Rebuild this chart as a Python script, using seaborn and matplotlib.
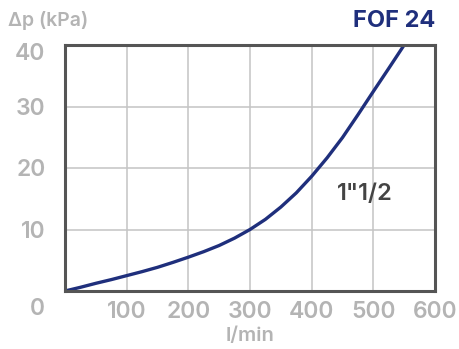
import matplotlib
matplotlib.use("Agg")
import matplotlib.pyplot as plt
import matplotlib.transforms as mtransforms
import seaborn as sns
import pandas as pd

flow = [0, 25, 50, 75, 100, 125, 150, 175, 200, 225, 250, 275, 300, 325, 350, 375, 400, 425, 450, 475, 500, 525, 550]
dp = [0, 0.6, 1.25, 1.85, 2.5, 3.15, 3.85, 4.65, 5.5, 6.4, 7.4, 8.6, 10.0, 11.65, 13.65, 15.95, 18.65, 21.65, 24.95, 28.65, 32.45, 36.2, 40.0]
xticks = [100, 200, 300, 400, 500, 600]
yticks = [10, 20, 30, 40]
title = "FOF 24"
series_label = '1"1/2'

sns.set_style("white")
plt.rcParams['font.family'] = ['Inter', 'DejaVu Sans']

navy = "#1f2f7c"
gray = "#b4b4b4"

fig = plt.figure(figsize=(4.59, 3.49), dpi=100)
ax = fig.add_axes([65/459, 1-291/349, 370/459, 246/349])

df = pd.DataFrame({"flow": flow, "dp": dp})
sns.lineplot(data=df, x="flow", y="dp", ax=ax, color=navy, linewidth=2.4, zorder=3)

ax.set_xlim(0, 600)
ax.set_ylim(0, 40)
ax.set_xticks(xticks)
ax.set_yticks(yticks)
ax.set_xticklabels([str(v) for v in xticks])
ax.set_yticklabels([str(v) for v in yticks])
ax.grid(True, color="#c4c4c4", linewidth=1.1, zorder=0)
ax.set_axisbelow(True)
for s in ax.spines.values():
    s.set_color("#555555")
    s.set_linewidth(2.2)
    s.set_zorder(4)

ax.tick_params(axis="both", length=0, labelsize=16.5, labelcolor=gray)
for lab in ax.get_xticklabels() + ax.get_yticklabels():
    lab.set_fontweight("semibold")
ax.tick_params(axis="y", pad=14)
ax.tick_params(axis="x", pad=7)

ylabs = ax.get_yticklabels()
off = mtransforms.ScaledTranslation(0, -7/100, fig.dpi_scale_trans)
ylabs[-1].set_transform(ylabs[-1].get_transform() + off)

ax.set_xlabel("l/min", fontsize=14.5, color=gray, fontweight="semibold", labelpad=3)
ax.set_ylabel("")
fig.text(8/459, 1-20/349, "Δp (kPa)", fontsize=14, color=gray, fontweight="semibold", va="center", ha="left")
fig.text(37/459, 1-309/349, "0", fontsize=16.5, color=gray, fontweight="semibold", va="center", ha="center")
fig.text(435/459, 1-21/349, title, fontsize=17, color=navy, fontweight="bold", va="center", ha="right")
ax.text(486, 15.8, series_label, fontsize=17, color="#444444", fontweight="semibold", va="center", ha="center")

fig.savefig("out.png", dpi=100)
